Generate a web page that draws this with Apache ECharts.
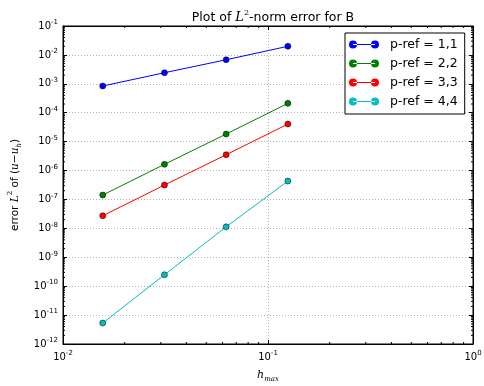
<!DOCTYPE html>
<html>
<head>
<meta charset="utf-8">
<script src="https://cdn.jsdelivr.net/npm/echarts@6/dist/echarts.min.js"></script>
<style>
  html, body { margin: 0; padding: 0; background: #fff; }
</style>
</head>
<body>
<div id="errChart" style="width: 484px;height:386px;"></div>
<script>
// h_max values (x) and L2 errors for each p-ref (y)
var hValues = [0.015625, 0.03125, 0.0625, 0.125];
var errP1 = [8.4e-4, 2.42e-3, 6.8e-3, 1.99e-2];
var errP2 = [1.42e-7, 1.64e-6, 1.83e-5, 2.11e-4];
var errP3 = [2.73e-8, 3.15e-7, 3.52e-6, 4.06e-5];
var errP4 = [5.29e-12, 2.48e-10, 1.13e-8, 4.33e-7];
var seriesNames = ['p-ref = 1,1', 'p-ref = 2,2', 'p-ref = 3,3', 'p-ref = 4,4'];
var seriesColors = ['#0000ff', '#008000', '#ff0000', '#00bfbf'];

var xMin = 1e-2, xMax = 1, yMin = 1e-12, yMax = 1e-1;

// minor tick positions 2..9 x 10^k (axis decoration only)
var xMinor = [], yMinor = [];
for (var k = -2; k < 0; k++) {
  for (var m = 2; m < 10; m++) xMinor.push(m * Math.pow(10, k));
}
for (var k2 = -12; k2 < -1; k2++) {
  for (var m2 = 2; m2 < 10; m2++) yMinor.push(m2 * Math.pow(10, k2));
}

var fontFam = 'DejaVu Sans';
var tickRich = {
  b: { fontSize: 10, fontFamily: fontFam, color: '#000', lineHeight: 14 },
  s: { fontSize: 7, fontFamily: fontFam, color: '#000', lineHeight: 14, verticalAlign: 'top' }
};
function powLabel(v) {
  var e = Math.round(Math.log10(v));
  return '{b|10}{s|' + e + '}';
}

var myChart = echarts.init(document.getElementById('errChart'));

function pairs(ys) {
  return hValues.map(function (h, i) { return [h, ys[i]]; });
}

var errSets = [errP1, errP2, errP3, errP4];
var series = errSets.map(function (ys, i) {
  return {
    name: seriesNames[i],
    type: 'line',
    xAxisIndex: 0,
    yAxisIndex: 0,
    symbol: 'circle',
    symbolSize: 6,
    lineStyle: { color: seriesColors[i], width: 1 },
    itemStyle: { color: seriesColors[i], borderColor: '#000', borderWidth: 0.5 },
    data: pairs(ys),
    z: 5
  };
});

// minor ticks, drawn through the axis scales
series.push({
  type: 'custom',
  silent: true,
  clip: false,
  xAxisIndex: 0, yAxisIndex: 0,
  data: xMinor.map(function (v) { return [v, yMin]; }),
  renderItem: function (params, api) {
    var v = api.value(0);
    var p0 = api.coord([v, yMin]);
    var p1 = api.coord([v, yMax]);
    return { type: 'group', children: [
      { type: 'line', shape: { x1: p0[0], y1: p0[1], x2: p0[0], y2: p0[1] - 2 }, style: { stroke: '#000', lineWidth: 1 } },
      { type: 'line', shape: { x1: p1[0], y1: p1[1], x2: p1[0], y2: p1[1] + 2 }, style: { stroke: '#000', lineWidth: 1 } }
    ] };
  },
  z: 4
});
series.push({
  type: 'custom',
  silent: true,
  clip: false,
  xAxisIndex: 0, yAxisIndex: 0,
  data: yMinor.map(function (v) { return [xMin, v]; }),
  renderItem: function (params, api) {
    var v = api.value(1);
    var p0 = api.coord([xMin, v]);
    var p1 = api.coord([xMax, v]);
    return { type: 'group', children: [
      { type: 'line', shape: { x1: p0[0], y1: p0[1], x2: p0[0] + 2, y2: p0[1] }, style: { stroke: '#000', lineWidth: 1 } },
      { type: 'line', shape: { x1: p1[0], y1: p1[1], x2: p1[0] - 2, y2: p1[1] }, style: { stroke: '#000', lineWidth: 1 } }
    ] };
  },
  z: 4
});

var gridLine = { show: true, lineStyle: { color: '#b3b3b3', type: [1, 2], width: 1 } };
var tickIn = { show: true, inside: true, length: 4, lineStyle: { color: '#000' } };
var axLine = { show: true, lineStyle: { color: '#000', width: 1 } };

var option = {
  animation: false,
  backgroundColor: '#fff',
  title: {
    text: '{t|Plot of }{i|L}{s|2}{t|-norm error for B}',
    left: 268,
    top: 4,
    textAlign: 'center',
    textStyle: {
      fontWeight: 'normal',
      rich: {
        t: { fontSize: 12.5, fontFamily: fontFam, fontWeight: 'normal', color: '#000', lineHeight: 18 },
        i: { fontSize: 13, fontFamily: 'DejaVu Serif', fontStyle: 'italic', fontWeight: 'normal', color: '#000', lineHeight: 18 },
        s: { fontSize: 8, fontFamily: 'DejaVu Serif', fontWeight: 'normal', color: '#000', lineHeight: 18, verticalAlign: 'top' }
      }
    }
  },
  grid: {
    left: 63, right: 11, top: 26, bottom: 42,
    outerBoundsMode: 'none',
    containLabel: false,
    show: true, borderColor: '#000', borderWidth: 1
  },
  legend: {
    orient: 'vertical',
    left: 345,
    top: 33,
    padding: [5, 7, 6, 4],
    itemGap: 6,
    itemWidth: 30,
    itemHeight: 8,
    icon: 'path://M0,4a4,4 0 1,0 8,0a4,4 0 1,0 -8,0ZM22,4a4,4 0 1,0 8,0a4,4 0 1,0 -8,0ZM4,3.6h22v0.8h-22Z',
    itemStyle: { borderWidth: 0 },
    borderColor: '#000',
    borderWidth: 1,
    borderRadius: 0,
    backgroundColor: '#fff',
    data: seriesNames,
    textStyle: { fontSize: 12.5, fontFamily: fontFam, color: '#000', padding: [0, 0, 0, 6] }
  },
  xAxis: [
    {
      type: 'log', logBase: 10, min: xMin, max: xMax, interval: 1,
      position: 'bottom',
      axisLine: axLine, axisTick: tickIn, splitLine: gridLine,
      axisLabel: { margin: 6, formatter: powLabel, rich: tickRich },
      name: '{i|h}{sub|max}',
      nameLocation: 'middle',
      nameGap: 23,
      nameTextStyle: {
        rich: {
          i: { fontSize: 11, fontFamily: 'DejaVu Serif', fontStyle: 'italic', color: '#000', lineHeight: 16 },
          sub: { fontSize: 7, fontFamily: 'DejaVu Serif', fontStyle: 'italic', color: '#000', lineHeight: 16, verticalAlign: 'bottom' }
        }
      }
    },
    {
      type: 'log', logBase: 10, min: xMin, max: xMax, interval: 1,
      position: 'top',
      axisLine: axLine, axisTick: tickIn, splitLine: { show: false },
      axisLabel: { show: false }
    }
  ],
  yAxis: [
    {
      type: 'log', logBase: 10, min: yMin, max: yMax, interval: 1,
      position: 'left',
      axisLine: axLine, axisTick: tickIn, splitLine: gridLine,
      axisLabel: { margin: 5, formatter: powLabel, rich: tickRich },
      name: '{t|error }{i|L}{s|2}{t| of (}{i|u}{t|−}{i|u}{sub|h}{t|)}',
      nameLocation: 'middle',
      nameRotate: 90,
      nameGap: 38,
      nameTextStyle: {
        rich: {
          t: { fontSize: 10.5, fontFamily: fontFam, color: '#000', lineHeight: 16 },
          i: { fontSize: 10.5, fontFamily: 'DejaVu Serif', fontStyle: 'italic', color: '#000', lineHeight: 16 },
          s: { fontSize: 7, fontFamily: 'DejaVu Serif', color: '#000', lineHeight: 16, verticalAlign: 'top' },
          sub: { fontSize: 7, fontFamily: 'DejaVu Serif', fontStyle: 'italic', color: '#000', lineHeight: 16, verticalAlign: 'bottom' }
        }
      }
    },
    {
      type: 'log', logBase: 10, min: yMin, max: yMax, interval: 1,
      position: 'right',
      axisLine: axLine, axisTick: tickIn, splitLine: { show: false },
      axisLabel: { show: false }
    }
  ],
  series: series
};

myChart.setOption(option);
</script>
</body>
</html>
